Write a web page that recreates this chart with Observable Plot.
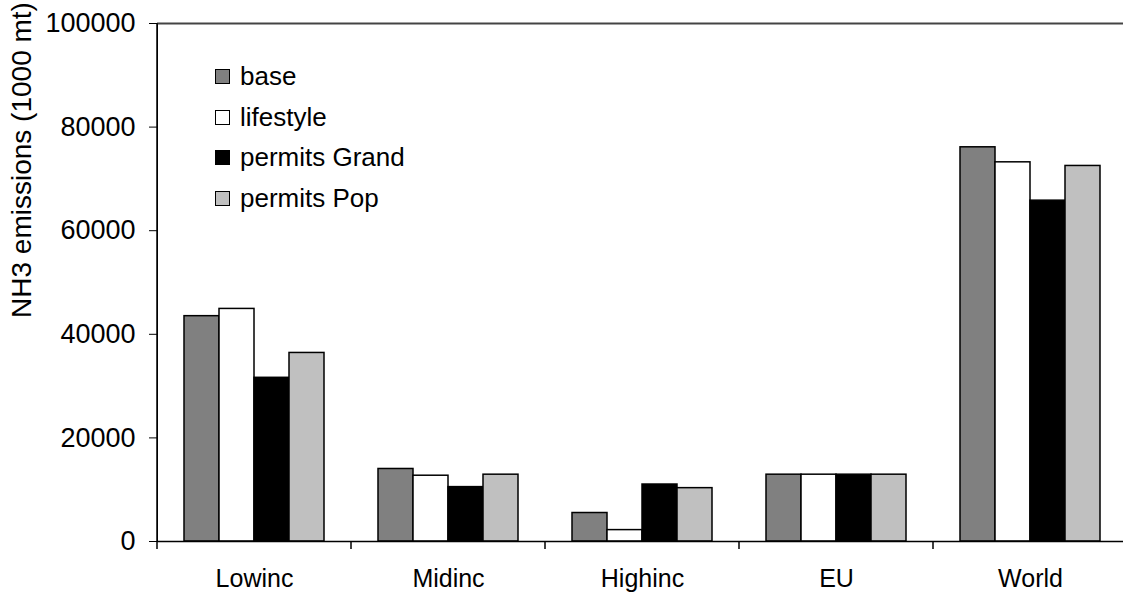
<!DOCTYPE html>
<html><head><meta charset="utf-8">
<script src="https://cdn.jsdelivr.net/npm/d3@7"></script>
<script src="https://cdn.jsdelivr.net/npm/@observablehq/plot@0.6"></script>
<style>
html,body{margin:0;padding:0;overflow:hidden;background:#fff;}
#wrap{position:relative;width:1127px;height:594px;font-family:"Liberation Sans",Arial,sans-serif;}
.legend{position:absolute;left:215px;top:56px;}
.item{display:flex;align-items:center;height:40.7px;font-size:26px;color:#000;}
.sw{width:13px;height:13px;border:1px solid #000;margin-right:10px;box-sizing:content-box;}
</style></head><body><div id="wrap"></div>
<script>
const categories = ["Lowinc", "Midinc", "Highinc", "EU", "World"];
const series = ["base", "lifestyle", "permits Grand", "permits Pop"];
const base = [43500, 14000, 5500, 12900, 76100];
const lifestyle = [44900, 12700, 2200, 12900, 73200];
const permitsGrand = [31600, 10500, 11000, 12900, 65800];
const permitsPop = [36400, 12900, 10300, 12900, 72500];
const colors = ["#808080", "#ffffff", "#000000", "#c0c0c0"];
const yTicks = [0, 20000, 40000, 60000, 80000, 100000];
const yLabel = "NH3 emissions (1000 mt)";

const values = [base, lifestyle, permitsGrand, permitsPop];
const data = [];
categories.forEach((c, i) => series.forEach((s, j) => data.push({cat: c, series: s, value: values[j][i]})));

const font = '"Liberation Sans", Arial, sans-serif';
const plot = Plot.plot({
  width: 1127,
  height: 594,
  marginLeft: 157,
  marginRight: 0,
  marginTop: 23,
  marginBottom: 53,
  style: {fontSize: "25px", fontFamily: font, color: "#000", background: "#fff", overflow: "visible"},
  fx: {domain: categories, padding: 0, axis: "bottom", label: null, tickSize: 0, tickPadding: 28},
  x: {domain: series, paddingInner: 0, paddingOuter: 0.755, axis: null},
  y: {domain: [0, 100000], ticks: yTicks, tickFormat: d => String(d), tickSize: 8, tickPadding: 14, label: null, line: true},
  color: {domain: series, range: colors},
  marks: [
    Plot.ruleY([100000], {stroke: "#444", strokeWidth: 2}),
    Plot.barY(data, {fx: "cat", x: "series", y: "value", fill: "series", stroke: "#000", strokeWidth: 1.5}),
    Plot.ruleY([0], {stroke: "#000", strokeWidth: 1.5})
  ]
});

const svg = d3.select(plot);
// slightly larger y tick labels, as in the reference
svg.selectAll('[aria-label="y-axis tick label"], [aria-label="y-axis"]').attr("font-size", 27);
svg.selectAll('[aria-label="y-axis tick label"] text, [aria-label="y-axis"] text').attr("font-size", 27);

const fxr = plot.scale("fx").range;
const yr = plot.scale("y").range;
const y0 = Math.max(yr[0], yr[1]);
const yTop = Math.min(yr[0], yr[1]);
const step = (fxr[1] - fxr[0]) / categories.length;
// category boundary ticks below the baseline, from the fx band scale
const edges = d3.range(categories.length + 1).map(i => fxr[0] + i * step);
svg.append("g").selectAll("line").data(edges).join("line")
  .attr("x1", d => d).attr("x2", d => d)
  .attr("y1", y0).attr("y2", y0 + 8)
  .attr("stroke", "#000").attr("stroke-width", 1.5);
// left axis line
svg.append("line").attr("x1", fxr[0]).attr("x2", fxr[0]).attr("y1", yTop).attr("y2", y0)
  .attr("stroke", "#000").attr("stroke-width", 1.5);
// y axis title
svg.append("text").attr("transform", "translate(31,160) rotate(-90)")
  .attr("text-anchor", "middle").attr("font-size", 28).attr("font-family", font)
  .attr("fill", "#000").text(yLabel);

const wrap = document.getElementById("wrap");
wrap.appendChild(plot);
const legend = document.createElement("div");
legend.className = "legend";
series.forEach((s, j) => {
  const it = document.createElement("div");
  it.className = "item";
  const sw = document.createElement("span");
  sw.className = "sw";
  sw.style.background = colors[j];
  const t = document.createElement("span");
  t.textContent = s;
  it.appendChild(sw); it.appendChild(t);
  legend.appendChild(it);
});
wrap.appendChild(legend);
</script></body></html>
